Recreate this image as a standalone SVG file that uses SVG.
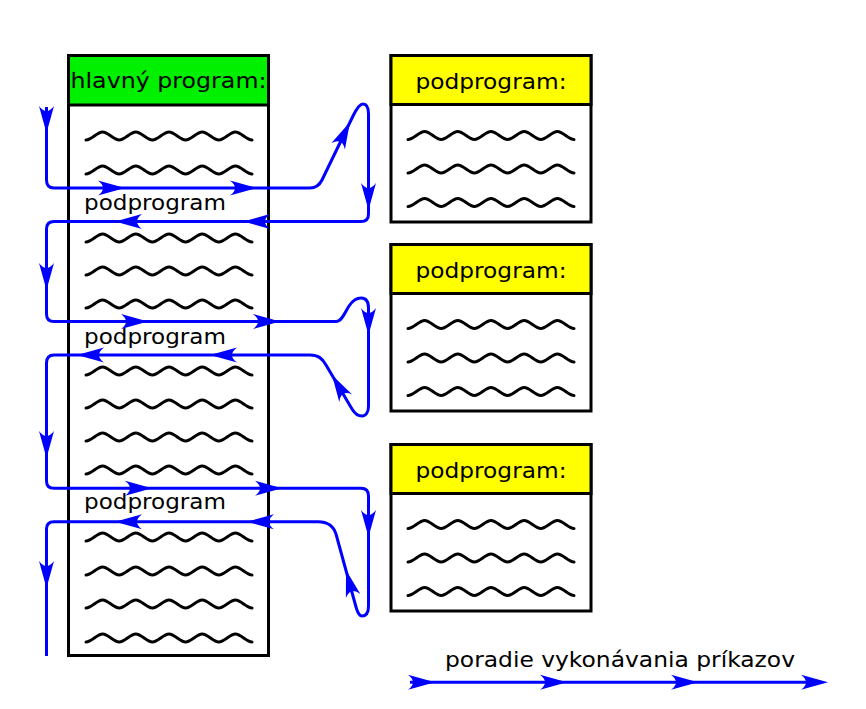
<svg xmlns="http://www.w3.org/2000/svg" xmlns:xlink="http://www.w3.org/1999/xlink" width="866" height="709" viewBox="0 0 866 709">
<style>
.box{fill:#ffffff;stroke:#000000;stroke-width:3}
.hmain{fill:#00f000;stroke:#000000;stroke-width:3}
.hsub{fill:#ffff00;stroke:#000000;stroke-width:3}
.wave{fill:none;stroke:#000000;stroke-width:3;stroke-linecap:round}
.flow{fill:none;stroke:#0000ff;stroke-width:3;stroke-linejoin:round}
.ah{fill:#0000ff;stroke:none}
text{font-family:"DejaVu Sans","Liberation Sans",sans-serif;font-size:22px;fill:#000000}
</style>
<defs>
<path id="w" class="wave" d="M0,4 c5.5,0 11.1,-8 16.6,-8 s11.1,8 16.6,8 s11.1,-8 16.6,-8 s11.1,8 16.6,8 s11.1,-8 16.6,-8 s11.1,8 16.6,8 s11.1,-8 16.6,-8 s11.1,8 16.6,8 s11.1,-8 16.6,-8 s11.1,8 16.6,8"/>
<path id="a" class="ah" d="M0,0 L-27,-7.5 Q-17,0 -27,7.5 Z"/>
</defs>

<g id="main">
<rect class="box" x="68.5" y="55.5" width="200" height="600"/>
<rect class="hmain" x="68.5" y="55.5" width="200" height="49.5"/>
<text x="168.5" y="88" text-anchor="middle" textLength="196" lengthAdjust="spacingAndGlyphs">hlavný program:</text>
<use xlink:href="#w" x="86" y="136"/>
<use xlink:href="#w" x="86" y="170"/>
<text x="84" y="209.5" textLength="142" lengthAdjust="spacingAndGlyphs">podprogram</text>
<use xlink:href="#w" x="86" y="238"/>
<use xlink:href="#w" x="86" y="271"/>
<use xlink:href="#w" x="86" y="304"/>
<text x="84" y="343.5" textLength="142" lengthAdjust="spacingAndGlyphs">podprogram</text>
<use xlink:href="#w" x="86" y="371"/>
<use xlink:href="#w" x="86" y="404"/>
<use xlink:href="#w" x="86" y="437"/>
<use xlink:href="#w" x="86" y="470"/>
<text x="84" y="508.5" textLength="142" lengthAdjust="spacingAndGlyphs">podprogram</text>
<use xlink:href="#w" x="86" y="537"/>
<use xlink:href="#w" x="86" y="571"/>
<use xlink:href="#w" x="86" y="604"/>
<use xlink:href="#w" x="86" y="638"/>
</g>

<g id="sub1">
<rect class="box" x="391" y="55.5" width="200" height="166.5"/>
<rect class="hsub" x="391" y="55.5" width="200" height="49"/>
<text x="491" y="89" text-anchor="middle" textLength="151" lengthAdjust="spacingAndGlyphs">podprogram:</text>
<use xlink:href="#w" x="408" y="135.5"/>
<use xlink:href="#w" x="408" y="169"/>
<use xlink:href="#w" x="408" y="202.5"/>
</g>

<g id="sub2">
<rect class="box" x="391" y="244.5" width="200" height="166.5"/>
<rect class="hsub" x="391" y="244.5" width="200" height="49"/>
<text x="491" y="278" text-anchor="middle" textLength="151" lengthAdjust="spacingAndGlyphs">podprogram:</text>
<use xlink:href="#w" x="408" y="324.5"/>
<use xlink:href="#w" x="408" y="358"/>
<use xlink:href="#w" x="408" y="391.5"/>
</g>

<g id="sub3">
<rect class="box" x="391" y="444.5" width="200" height="166.5"/>
<rect class="hsub" x="391" y="444.5" width="200" height="49"/>
<text x="491" y="478" text-anchor="middle" textLength="151" lengthAdjust="spacingAndGlyphs">podprogram:</text>
<use xlink:href="#w" x="408" y="524.5"/>
<use xlink:href="#w" x="408" y="558"/>
<use xlink:href="#w" x="408" y="591.5"/>
</g>

<g id="connectors">
<path class="flow" d="M46.5,107 V180 Q46.5,188 54,188 H310 Q318,188 322,180 L353,116 C357,107.8 360,104 363,104 C367,104 368.5,108 368.5,114 V214 Q368.5,221.5 361,221.5 H54 Q46.5,221.5 46.5,229 V314 Q46.5,321.5 54,321.5 H336 C342,321.5 345,312 349,306 C353,300 357,298 361,298 C366,298 368.5,302 368.5,308 V406 C368.5,412 366,416 362,416 C358,416 355,414 352,409 L326,365 C322,358 318,355 310,355 H54 Q46.5,355 46.5,363 V481 Q46.5,488.3 54,488.3 H361 Q368.5,488.3 368.5,496 V606 C368.5,613 366,616 362,616 C359.5,616 357.6,612.8 356,607 L336,534 C333.5,526 328,521.7 318,521.7 H54 Q46.5,521.7 46.5,529 V656"/>
<use xlink:href="#a" transform="translate(46.5,133) rotate(90)"/>
<use xlink:href="#a" transform="translate(125,188)"/>
<use xlink:href="#a" transform="translate(257,188)"/>
<use xlink:href="#a" transform="translate(350,122) rotate(-64)"/>
<use xlink:href="#a" transform="translate(368.5,210) rotate(90)"/>
<use xlink:href="#a" transform="translate(243,221.5) rotate(180)"/>
<use xlink:href="#a" transform="translate(115,221.5) rotate(180)"/>
<use xlink:href="#a" transform="translate(46.5,290) rotate(90)"/>
<use xlink:href="#a" transform="translate(148,321.5)"/>
<use xlink:href="#a" transform="translate(280,321.5)"/>
<use xlink:href="#a" transform="translate(368.5,335) rotate(90)"/>
<use xlink:href="#a" transform="translate(332,375) rotate(-120.6)"/>
<use xlink:href="#a" transform="translate(210,355) rotate(180)"/>
<use xlink:href="#a" transform="translate(77,355) rotate(180)"/>
<use xlink:href="#a" transform="translate(46.5,458) rotate(90)"/>
<use xlink:href="#a" transform="translate(152,488.3)"/>
<use xlink:href="#a" transform="translate(282,488.3)"/>
<use xlink:href="#a" transform="translate(368.5,537) rotate(90)"/>
<use xlink:href="#a" transform="translate(346,570) rotate(-105.3)"/>
<use xlink:href="#a" transform="translate(247,521.7) rotate(180)"/>
<use xlink:href="#a" transform="translate(115,521.7) rotate(180)"/>
<use xlink:href="#a" transform="translate(46.5,588) rotate(90)"/>
</g>

<g id="legend">
<text x="620" y="667" text-anchor="middle" textLength="350" lengthAdjust="spacingAndGlyphs">poradie vykonávania príkazov</text>
<path class="flow" d="M410,682.3 H820"/>
<use xlink:href="#a" transform="translate(435,682.3)"/>
<use xlink:href="#a" transform="translate(567,682.3)"/>
<use xlink:href="#a" transform="translate(698,682.3)"/>
<use xlink:href="#a" transform="translate(828,682.3)"/>
</g>
</svg>
